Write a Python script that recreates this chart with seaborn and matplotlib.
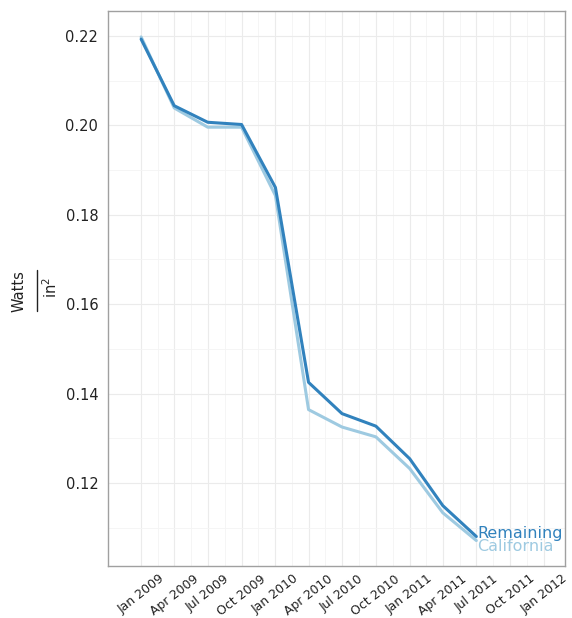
import numpy as np
import pandas as pd
import matplotlib
matplotlib.use("Agg")
import matplotlib.pyplot as plt
from matplotlib.lines import Line2D
import seaborn as sns

# Quarterly power density (W / in^2)
quarters = ["2009-01-01", "2009-04-01", "2009-07-01", "2009-10-01", "2010-01-01",
            "2010-04-01", "2010-07-01", "2010-10-01", "2011-01-01", "2011-04-01",
            "2011-07-01"]
remaining = [0.2193, 0.2044, 0.2007, 0.2002, 0.1861, 0.1425, 0.1355, 0.1327,
             0.1254, 0.1149, 0.1080]
california = [0.2198, 0.2039, 0.1996, 0.1996, 0.1843, 0.1364, 0.1325, 0.1303,
              0.1232, 0.1133, 0.1071]
series_names = ["California", "Remaining"]
series_colors = {"California": "#9ecae1", "Remaining": "#3182bd"}

tick_dates = ["2009-01-01", "2009-04-01", "2009-07-01", "2009-10-01", "2010-01-01",
              "2010-04-01", "2010-07-01", "2010-10-01", "2011-01-01", "2011-04-01",
              "2011-07-01", "2011-10-01", "2012-01-01"]
tick_labels = ["Jan 2009", "Apr 2009", "Jul 2009", "Oct 2009", "Jan 2010",
               "Apr 2010", "Jul 2010", "Oct 2010", "Jan 2011", "Apr 2011",
               "Jul 2011", "Oct 2011", "Jan 2012"]
y_ticks = [0.12, 0.14, 0.16, 0.18, 0.20, 0.22]

df = pd.DataFrame({
    "date": pd.to_datetime(quarters * 2),
    "value": california + remaining,
    "series": ["California"] * len(quarters) + ["Remaining"] * len(quarters),
})

sns.set_style("white")
plt.rcParams["font.family"] = ["DejaVu Sans"]
plt.rcParams["mathtext.fontset"] = "dejavusans"

W, H = 572, 618
fig = plt.figure(figsize=(W / 100, H / 100), dpi=100)
ax = fig.add_axes([108 / W, 52 / H, 457 / W, 555 / H])

sns.lineplot(data=df, x="date", y="value", hue="series", hue_order=series_names,
             palette=series_colors, linewidth=2.2, legend=False, ax=ax, zorder=3)

# axis ranges
ax.set_xlim(pd.Timestamp("2008-10-03"), pd.Timestamp("2012-02-27"))
ax.set_ylim(0.1014, 0.2256)

# ticks
xt = pd.to_datetime(tick_dates)
ax.set_xticks(xt)
ax.set_xticklabels(tick_labels, rotation=38, ha="center", va="top",
                   fontsize=9, color="#222222")
ax.set_yticks(y_ticks)
ax.set_yticklabels([f"{v:.2f}" for v in y_ticks], fontsize=10.5, color="#222222")
minor_x = xt[:-1] + (xt[1:] - xt[:-1]) / 2
ax.set_xticks(minor_x, minor=True)
ax.set_yticks([0.11, 0.13, 0.15, 0.17, 0.19, 0.21], minor=True)
ax.tick_params(axis="both", which="major", direction="out", length=4, width=0.8,
               color="#a0a0a0")
ax.tick_params(axis="x", which="major", pad=0.5)
ax.tick_params(axis="y", which="major", pad=3)
ax.tick_params(axis="both", which="minor", length=0)

# grid
ax.grid(which="major", color="#ebebeb", linewidth=0.8, zorder=0)
ax.grid(which="minor", color="#f4f4f4", linewidth=0.6, zorder=0)
ax.set_axisbelow(True)
for sp in ax.spines.values():
    sp.set_visible(True)
    sp.set_color("#a0a0a0")
    sp.set_linewidth(1.0)

ax.set_xlabel("")
ax.set_ylabel("")

# y-axis title drawn as a rotated fraction: Watts / in^2
fig.text(19 / W, 1 - 291 / H, "Watts", rotation=90, ha="center", va="center",
         fontsize=10.5, color="#222222")
fig.add_artist(Line2D([37 / W, 37 / W], [1 - 270 / H, 1 - 311 / H],
                      transform=fig.transFigure, color="#222222", linewidth=1.0))
fig.text(51 / W, 1 - 288 / H, r"in$^2$", rotation=90, ha="center", va="center",
         fontsize=10.5, color="#222222")

# direct labels at the end of each line
label_offsets = {"Remaining": 0.0007, "California": -0.0013}
last = df.sort_values("date").groupby("series").tail(1)
for _, row in last.iterrows():
    ax.text(row["date"] + pd.Timedelta(days=2), row["value"] + label_offsets[row["series"]],
            row["series"], color=series_colors[row["series"]], fontsize=11.5,
            ha="left", va="center", clip_on=True, zorder=4)

fig.savefig("out.png", dpi=100)
